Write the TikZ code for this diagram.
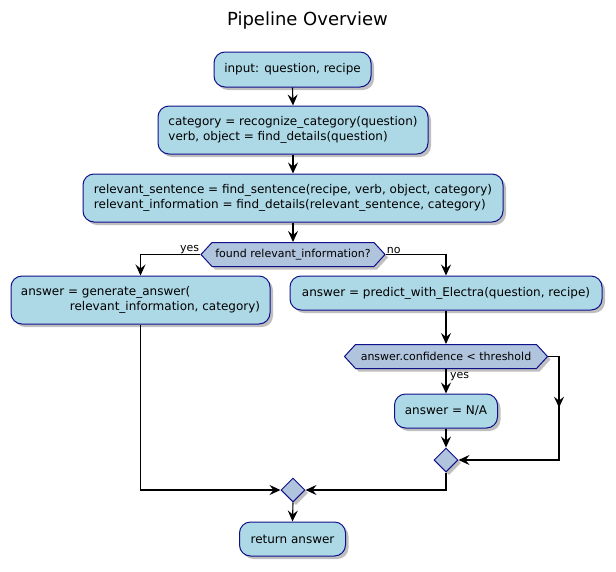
\documentclass[tikz,border=0pt]{standalone}
\usepackage{fontspec}
\setmainfont{DejaVu Sans}
\usetikzlibrary{arrows.meta,shapes.geometric,shapes.symbols,shadows,calc,decorations.markings}
\definecolor{boxfill}{HTML}{ADD8E6}
\definecolor{hexfill}{HTML}{B0C4DE}
\definecolor{bordercol}{HTML}{10108A}
\begin{document}
\begin{tikzpicture}[x=1pt,y=-1pt,
  shade/.style={drop shadow={shadow xshift=3pt,shadow yshift=-3pt,fill=black,opacity=0.25}},
  actbox/.style={draw=bordercol, line width=1pt, fill=boxfill, rounded corners=11pt, shade,
    font=\fontsize{12}{15}\selectfont, align=left, inner sep=0pt},
  hexa/.style={signal, signal to=east and west, signal pointer angle=95, draw=bordercol, line width=1pt,
    fill=hexfill, shade, font=\fontsize{11}{13}\selectfont, inner sep=0pt, minimum height=24pt},
  merge/.style={diamond, draw=bordercol, line width=1pt, fill=hexfill, shade, inner sep=0pt,
    minimum width=24pt, minimum height=24pt},
  tip/.tip={Stealth[length=11pt,width=10pt,inset=4pt]},
  conn/.style={draw=black, line width=1.1pt, -tip},
  midtip/.style={decoration={markings, mark=at position #1 with {\arrow{tip}}}, postaction=decorate},
  lbl/.style={font=\fontsize{11}{13}\selectfont, inner sep=1pt}]
\useasboundingbox (0,0) rectangle (616,571);

\node[font=\fontsize{18}{22}\selectfont] (title) at (307.5,21) {Pipeline Overview};

\node[actbox, minimum width=157pt, minimum height=35pt] (b1) at (292.5,69.5) {input: question, recipe};
\node[actbox, minimum width=270pt, minimum height=48pt] (b2) at (293,130) {category = recognize\_category(question)\\verb, object = find\_details(question)};
\node[actbox, minimum width=420pt, minimum height=48pt] (b3) at (293,198) {relevant\_sentence = find\_sentence(recipe, verb, object, category)\\relevant\_information = find\_details(relevant\_sentence, category)};
\node[hexa, minimum width=184pt] (h1) at (293,254.5) {found relevant\_information?};
\node[actbox, minimum width=259pt, minimum height=48pt] (b4) at (140.5,300) {answer = generate\_answer(\\\hspace*{49pt}relevant\_information, category)};
\node[actbox, minimum width=312pt, minimum height=34pt] (b5) at (446,293) {answer = predict\_with\_Electra(question, recipe)};
\node[hexa, minimum width=203pt] (h2) at (446,356.5) {answer.confidence < threshold};
\node[actbox, minimum width=103pt, minimum height=34pt] (b6) at (446,411) {answer = N/A};
\node[merge] (d1) at (446,460) {};
\node[merge] (d2) at (293,490) {};
\node[actbox, minimum width=106pt, minimum height=34pt] (b7) at (292.5,539) {return answer};
\coordinate (rcorner) at (559,460);

\draw[conn] (b1.south) -- (b2.north);
\draw[conn] (b2.south) -- (b3.north);
\draw[conn] (b3.south) -- (h1.north);
\draw[conn] (h1.west) -| (b4.north);
\draw[conn] (h1.east) -| (b5.north);
\draw[conn] (b5.south) -- (h2.north);
\draw[conn] (h2.south) -- (b6.north);
\draw[conn] (b6.south) -- (d1.north);
\draw[conn, midtip=62pt] (h2.east) -| (rcorner) -- (d1.east);
\draw[conn] (d1.south) |- (d2.east);
\draw[conn] (b4.south) |- (d2.west);
\draw[conn] (d2.south) -- (b7.north);

\node[lbl, anchor=south east] (yes1) at (h1.west) {yes};
\node[lbl, anchor=south west] (no1) at (h1.east) {no};
\node[lbl, anchor=west] (yes2) at ($(h2.south)+(3,8)$) {yes};
\end{tikzpicture}
\end{document}
